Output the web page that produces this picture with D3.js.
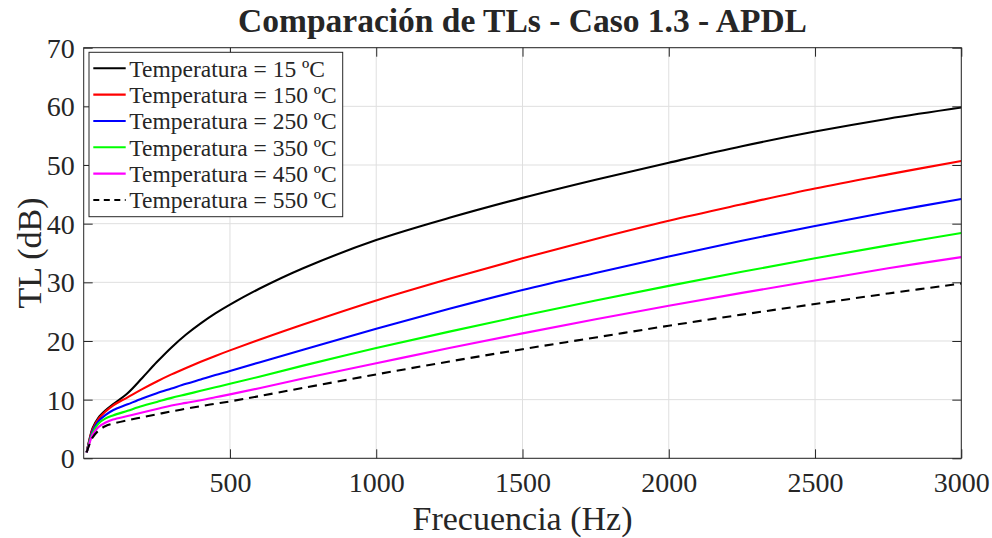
<!DOCTYPE html>
<html>
<head>
<meta charset="utf-8">
<script src="https://cdn.jsdelivr.net/npm/d3@7"></script>
<style>
  html, body { margin: 0; padding: 0; background: #fff; }
  svg { display: block; }
  text { font-family: "Liberation Serif", "Times New Roman", serif; fill: #262626; }
</style>
</head>
<body>
<svg id="chart" width="992" height="538"></svg>
<script>
// Frequency samples (Hz)
const freqs = [10, 20, 30, 50, 75, 100, 150, 200, 250, 300, 350, 400, 450, 500, 600, 750, 1000, 1250, 1500, 1750, 2000, 2250, 2500, 2750, 3000];

// Transmission loss (dB) for each temperature
const tl15  = [1.0, 3.3, 5.1, 6.9, 8.2, 9.2, 11.1, 13.7, 16.4, 18.9, 21.1, 23.0, 24.7, 26.2, 28.9, 32.4, 37.2, 41.0, 44.4, 47.5, 50.4, 53.2, 55.7, 57.9, 59.8];
const tl150 = [1.0, 3.2, 4.9, 6.7, 8.0, 9.0, 10.4, 11.8, 13.1, 14.3, 15.4, 16.45, 17.45, 18.4, 20.2, 22.8, 26.9, 30.6, 34.1, 37.4, 40.5, 43.3, 46.0, 48.4, 50.7];
const tl250 = [1.0, 3.0, 4.6, 6.3, 7.4, 8.2, 9.2, 10.2, 11.1, 11.9, 12.7, 13.45, 14.2, 14.9, 16.35, 18.5, 22.1, 25.5, 28.7, 31.6, 34.4, 37.1, 39.6, 42.0, 44.2];
const tl350 = [1.0, 2.8, 4.3, 5.9, 6.8, 7.3, 8.1, 8.9, 9.6, 10.3, 10.9, 11.5, 12.1, 12.7, 13.9, 15.8, 18.8, 21.6, 24.3, 26.9, 29.4, 31.8, 34.1, 36.3, 38.4];
const tl450 = [1.0, 2.6, 4.0, 5.3, 6.1, 6.6, 7.2, 7.8, 8.4, 9.0, 9.45, 9.9, 10.4, 10.9, 11.95, 13.6, 16.2, 18.8, 21.3, 23.7, 26.0, 28.2, 30.3, 32.4, 34.3];
const tl550 = [1.0, 2.4, 3.5, 4.7, 5.5, 5.9, 6.5, 7.0, 7.5, 8.0, 8.45, 8.9, 9.3, 9.7, 10.6, 12.0, 14.3, 16.5, 18.6, 20.6, 22.6, 24.5, 26.3, 28.1, 29.8];

const seriesNames = ["Temperatura = 15 ºC", "Temperatura = 150 ºC", "Temperatura = 250 ºC",
                     "Temperatura = 350 ºC", "Temperatura = 450 ºC", "Temperatura = 550 ºC"];
const seriesValues = [tl15, tl150, tl250, tl350, tl450, tl550];
const seriesColors = ["#000000", "#ff0000", "#0000ff", "#00ff00", "#ff00ff", "#000000"];
const seriesDash = [null, null, null, null, null, "9,6"];

const xTicks = [500, 1000, 1500, 2000, 2500, 3000];
const yTicks = [0, 10, 20, 30, 40, 50, 60, 70];

const titleText = "Comparación de TLs - Caso 1.3 - APDL";
const xLabel = "Frecuencia (Hz)";
const yLabel = "TL (dB)";

// Layout
const plot = { left: 83.7, right: 961.3, top: 47.7, bottom: 458.3 };
const svg = d3.select("#chart");

const x = d3.scaleLinear().domain([0, 3000]).range([plot.left, plot.right]);
const y = d3.scaleLinear().domain([0, 70]).range([plot.bottom, plot.top]);

const axisColor = "#262626";
const gridColor = "#dfdfdf";
const tickLen = 9;
const fmt = d3.format("d");

// Grid
const grid = svg.append("g");
grid.selectAll("line.gx").data(xTicks).join("line")
  .attr("x1", d => x(d)).attr("x2", d => x(d))
  .attr("y1", plot.top).attr("y2", plot.bottom)
  .attr("stroke", gridColor).attr("stroke-width", 1);
grid.selectAll("line.gy").data(yTicks).join("line")
  .attr("x1", plot.left).attr("x2", plot.right)
  .attr("y1", d => y(d)).attr("y2", d => y(d))
  .attr("stroke", gridColor).attr("stroke-width", 1);

// Curves
svg.append("clipPath").attr("id", "clip").append("rect")
  .attr("x", plot.left).attr("y", plot.top)
  .attr("width", plot.right - plot.left).attr("height", plot.bottom - plot.top);

const line = d3.line()
  .x((d, i) => x(freqs[i]))
  .y(d => y(d))
  .curve(d3.curveCatmullRom.alpha(0.5));

const curves = svg.append("g").attr("clip-path", "url(#clip)");
seriesValues.forEach((vals, k) => {
  curves.append("path")
    .datum(vals)
    .attr("d", line)
    .attr("fill", "none")
    .attr("stroke", seriesColors[k])
    .attr("stroke-width", 2.1)
    .attr("stroke-dasharray", seriesDash[k])
    .attr("stroke-linejoin", "round");
});

// Axes (box with inward ticks on all sides)
const xAxisB = d3.axisBottom(x).tickValues(xTicks).tickFormat(fmt).tickSizeInner(-tickLen).tickSizeOuter(0).tickPadding(14);
const yAxisL = d3.axisLeft(y).tickValues(yTicks).tickFormat(fmt).tickSizeInner(-tickLen).tickSizeOuter(0).tickPadding(9);
const xAxisT = d3.axisTop(x).tickValues(xTicks).tickSizeInner(-tickLen).tickSizeOuter(0).tickFormat("");
const yAxisR = d3.axisRight(y).tickValues(yTicks).tickSizeInner(-tickLen).tickSizeOuter(0).tickFormat("");

function styleAxis(g) {
  g.select(".domain").remove();
  g.selectAll(".tick line").attr("stroke", axisColor).attr("stroke-width", 1);
  g.selectAll(".tick text").attr("fill", axisColor)
    .style("font-family", "'Liberation Serif', serif").style("font-size", "28px");
}

svg.append("g").attr("transform", `translate(0,${plot.bottom})`).call(xAxisB).call(styleAxis);
svg.append("g").attr("transform", `translate(${plot.left},0)`).call(yAxisL).call(styleAxis)
  .selectAll(".tick text").attr("dy", "0.34em");
svg.append("g").attr("transform", `translate(0,${plot.top})`).call(xAxisT).call(styleAxis);
svg.append("g").attr("transform", `translate(${plot.right},0)`).call(yAxisR).call(styleAxis);

svg.append("rect")
  .attr("x", plot.left).attr("y", plot.top)
  .attr("width", plot.right - plot.left).attr("height", plot.bottom - plot.top)
  .attr("fill", "none").attr("stroke", axisColor).attr("stroke-width", 1);

// Title and axis labels
const cx = (plot.left + plot.right) / 2;
svg.append("text")
  .attr("x", cx).attr("y", 32)
  .attr("text-anchor", "middle")
  .style("font-size", "33.5px").style("font-weight", "bold")
  .attr("fill", "#000")
  .text(titleText);

svg.append("text")
  .attr("x", cx).attr("y", 530)
  .attr("text-anchor", "middle")
  .style("font-size", "34px")
  .text(xLabel);

svg.append("text")
  .attr("transform", `translate(41,${(plot.top + plot.bottom) / 2}) rotate(-90)`)
  .attr("text-anchor", "middle")
  .style("font-size", "34px")
  .text(yLabel);

// Legend
const legend = { x: 89, y: 52.3, w: 253.7, h: 164.4 };
const lg = svg.append("g");
lg.append("rect")
  .attr("x", legend.x).attr("y", legend.y)
  .attr("width", legend.w).attr("height", legend.h)
  .attr("fill", "#fff").attr("stroke", axisColor).attr("stroke-width", 1);

const rowY = d3.scaleLinear().domain([0, 5]).range([legend.y + 16, legend.y + 147.7]);
seriesNames.forEach((name, k) => {
  const yy = rowY(k);
  lg.append("line")
    .attr("x1", legend.x + 4.3).attr("x2", legend.x + 36.7)
    .attr("y1", yy).attr("y2", yy)
    .attr("stroke", seriesColors[k]).attr("stroke-width", 2.1)
    .attr("stroke-dasharray", seriesDash[k] ? "6,4.5" : null);
  lg.append("text")
    .attr("x", legend.x + 40.3).attr("y", yy)
    .attr("dy", "0.35em")
    .style("font-size", "23.5px")
    .attr("fill", "#000")
    .text(name);
});
</script>
</body>
</html>
